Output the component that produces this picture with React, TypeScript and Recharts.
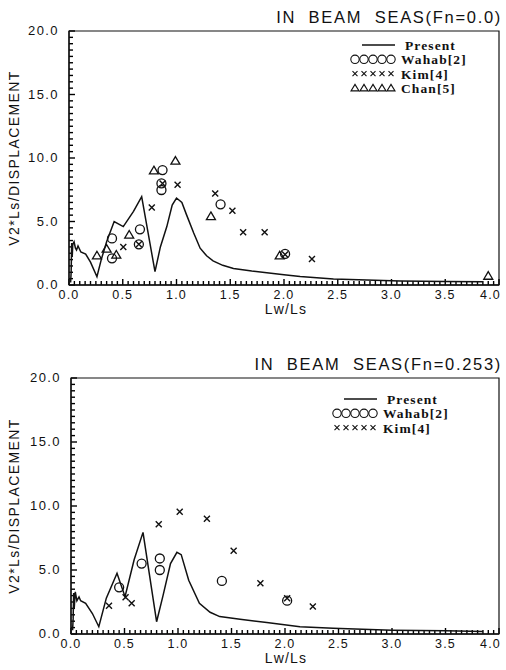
import React from 'react';
import { ComposedChart, Line, Scatter, XAxis, YAxis, ReferenceArea, ReferenceLine } from 'recharts';

type Pt = { x: number; y: number };

const xMajorTicks = [0, 0.5, 1.0, 1.5, 2.0, 2.5, 3.0, 3.5, 4.0];
const yMajorTicks = [0, 5, 10, 15, 20];
// minor tick marks: every 0.05 on x, every 0.5 on y
const xTicks = Array.from({ length: 81 }, (_, i) => +(i * 0.05).toFixed(2));
const yTicks = Array.from({ length: 41 }, (_, i) => i * 0.5);

// ---- upper panel, Fn = 0.0 ----
const presentFn0: Pt[] = [
  { x: 0.015, y: 0.2 }, { x: 0.02, y: 1.0 }, { x: 0.025, y: 3.3 }, { x: 0.03, y: 2.2 },
  { x: 0.035, y: 3.2 }, { x: 0.047, y: 3.4 }, { x: 0.06, y: 2.9 }, { x: 0.07, y: 2.75 },
  { x: 0.084, y: 3.07 }, { x: 0.11, y: 2.6 }, { x: 0.155, y: 2.44 }, { x: 0.2, y: 1.8 },
  { x: 0.26, y: 0.65 }, { x: 0.3, y: 2.0 }, { x: 0.35, y: 3.4 }, { x: 0.42, y: 5.0 },
  { x: 0.505, y: 4.6 }, { x: 0.6, y: 5.8 }, { x: 0.676, y: 6.95 }, { x: 0.8, y: 1.05 },
  { x: 0.85, y: 3.0 }, { x: 0.91, y: 4.6 }, { x: 0.96, y: 6.3 }, { x: 1.0, y: 6.85 },
  { x: 1.05, y: 6.5 }, { x: 1.09, y: 5.6 }, { x: 1.16, y: 4.1 }, { x: 1.22, y: 2.9 },
  { x: 1.28, y: 2.3 }, { x: 1.34, y: 1.9 }, { x: 1.43, y: 1.55 }, { x: 1.53, y: 1.3 },
  { x: 1.7, y: 1.1 }, { x: 1.84, y: 0.97 }, { x: 2.0, y: 0.8 }, { x: 2.15, y: 0.66 },
  { x: 2.46, y: 0.47 }, { x: 3.08, y: 0.31 }, { x: 3.5, y: 0.28 }, { x: 3.85, y: 0.25 },
];
const wahabFn0: Pt[] = [
  { x: 0.4, y: 3.67 }, { x: 0.4, y: 2.1 }, { x: 0.66, y: 4.38 }, { x: 0.65, y: 3.2 },
  { x: 0.87, y: 9.05 }, { x: 0.86, y: 8.0 }, { x: 0.86, y: 7.48 }, { x: 1.41, y: 6.35 },
  { x: 2.01, y: 2.45 },
];
const kimFn0: Pt[] = [
  { x: 0.505, y: 3.0 }, { x: 0.65, y: 3.2 }, { x: 0.77, y: 6.1 }, { x: 0.87, y: 8.0 },
  { x: 1.01, y: 7.9 }, { x: 1.36, y: 7.2 }, { x: 1.52, y: 5.85 }, { x: 1.62, y: 4.15 },
  { x: 1.82, y: 4.15 }, { x: 2.01, y: 2.4 }, { x: 2.26, y: 2.05 },
];
const chanFn0: Pt[] = [
  { x: 0.26, y: 2.3 }, { x: 0.35, y: 2.83 }, { x: 0.44, y: 2.36 }, { x: 0.56, y: 3.94 },
  { x: 0.79, y: 9.0 }, { x: 0.99, y: 9.76 }, { x: 1.32, y: 5.4 }, { x: 1.96, y: 2.3 },
  { x: 3.9, y: 0.7 },
];

// ---- lower panel, Fn = 0.253 ----
const presentFn253: Pt[] = [
  { x: 0.015, y: 0.3 }, { x: 0.02, y: 1.2 }, { x: 0.025, y: 3.2 }, { x: 0.03, y: 2.0 },
  { x: 0.04, y: 3.3 }, { x: 0.055, y: 2.6 }, { x: 0.075, y: 2.9 }, { x: 0.09, y: 2.6 },
  { x: 0.137, y: 2.4 }, { x: 0.2, y: 1.6 }, { x: 0.26, y: 0.57 }, { x: 0.33, y: 2.8 },
  { x: 0.43, y: 4.74 }, { x: 0.505, y: 2.92 }, { x: 0.59, y: 5.8 }, { x: 0.673, y: 7.94 },
  { x: 0.8, y: 0.96 }, { x: 0.86, y: 3.0 }, { x: 0.93, y: 5.5 }, { x: 0.99, y: 6.38 },
  { x: 1.03, y: 6.2 }, { x: 1.1, y: 4.2 }, { x: 1.2, y: 2.4 }, { x: 1.3, y: 1.7 },
  { x: 1.39, y: 1.36 }, { x: 1.58, y: 1.15 }, { x: 1.83, y: 0.89 }, { x: 2.14, y: 0.57 },
  { x: 2.45, y: 0.44 }, { x: 3.0, y: 0.3 }, { x: 3.5, y: 0.25 }, { x: 3.85, y: 0.2 },
];
const wahabFn253: Pt[] = [
  { x: 0.45, y: 3.65 }, { x: 0.66, y: 5.5 }, { x: 0.83, y: 5.9 }, { x: 0.83, y: 5.0 },
  { x: 1.41, y: 4.15 }, { x: 2.02, y: 2.6 },
];
const kimFn253: Pt[] = [
  { x: 0.355, y: 2.2 }, { x: 0.51, y: 2.87 }, { x: 0.567, y: 2.4 }, { x: 0.82, y: 8.57 },
  { x: 1.016, y: 9.56 }, { x: 1.27, y: 9.0 }, { x: 1.52, y: 6.5 }, { x: 1.77, y: 3.96 },
  { x: 2.02, y: 2.8 }, { x: 2.26, y: 2.14 },
];

const INK = '#111';
const tickFont = '"Liberation Sans", Arial, sans-serif';

const isMajor = (v: number, majors: number[]) => majors.some((m) => Math.abs(m - v) < 1e-6);

// labels only; the inward tick marks are drawn as reference segments
const XTick = (p: any) => {
  const v = p.payload.value;
  if (!isMajor(v, xMajorTicks)) return <g />;
  const last = Math.abs(v - 4) < 1e-6;
  return (
    <text
      x={last ? p.x + 2 : p.x}
      y={p.y + 14}
      textAnchor={last ? 'end' : 'middle'}
      fontSize={12.5}
      fontFamily={tickFont}
      letterSpacing={1.2}
      fill={INK}
    >
      {v.toFixed(1)}
    </text>
  );
};

const YTick = (p: any) => {
  const v = p.payload.value;
  if (!isMajor(v, yMajorTicks)) return <g />;
  return (
    <text x={p.x - 10} y={p.y + 4} textAnchor="end" fontSize={13} fontFamily={tickFont} letterSpacing={1.4} fill={INK}>
      {v.toFixed(1)}
    </text>
  );
};

const CircleMark = (p: any) => (
  <circle cx={p.cx} cy={p.cy} r={4.5} fill="none" stroke={INK} strokeWidth={1.3} />
);
const CrossMark = (p: any) => {
  const s = 3;
  return (
    <path
      d={`M${p.cx - s},${p.cy - s}L${p.cx + s},${p.cy + s}M${p.cx - s},${p.cy + s}L${p.cx + s},${p.cy - s}`}
      stroke={INK}
      strokeWidth={1.4}
      fill="none"
    />
  );
};
const TriMark = (p: any) => {
  const s = 4.5;
  return (
    <path
      d={`M${p.cx},${p.cy - s}L${p.cx + s},${p.cy + s * 0.7}L${p.cx - s},${p.cy + s * 0.7}Z`}
      fill="none"
      stroke={INK}
      strokeWidth={1.3}
    />
  );
};

type LegendRow = { label: string; kind: 'line' | 'circle' | 'cross' | 'tri' };

function LegendBox({ rows, left, top }: { rows: LegendRow[]; left: number; top: number }) {
  const rowH = 14.3;
  return (
    <svg style={{ position: 'absolute', left, top }} width={150} height={rows.length * rowH + 4}>
      {rows.map((r, i) => {
        const cy = 8 + i * rowH;
        const marks = [0, 1, 2, 3, 4].map((k) => 5 + k * 9);
        return (
          <g key={r.label}>
            {r.kind === 'line' && <line x1={12} x2={45} y1={cy} y2={cy} stroke={INK} strokeWidth={1.3} />}
            {r.kind === 'circle' && marks.map((mx) => <circle key={mx} cx={mx} cy={cy} r={4.2} fill="none" stroke={INK} strokeWidth={1.1} />)}
            {r.kind === 'cross' &&
              marks.map((mx) => (
                <path key={mx} d={`M${mx - 2.5},${cy - 2.5}L${mx + 2.5},${cy + 2.5}M${mx - 2.5},${cy + 2.5}L${mx + 2.5},${cy - 2.5}`} stroke={INK} strokeWidth={1.1} />
              ))}
            {r.kind === 'tri' &&
              marks.map((mx) => (
                <path key={mx} d={`M${mx},${cy - 3.5}L${mx + 4},${cy + 3}L${mx - 4},${cy + 3}Z`} fill="none" stroke={INK} strokeWidth={1.1} />
              ))}
            <text
              x={r.kind === 'line' ? 55 : 51}
              y={cy + 5}
              fontSize={13.5}
              fontWeight="bold"
              fontFamily='"Liberation Serif", "DejaVu Serif", serif'
              letterSpacing={1.1}
              fill={INK}
            >
              {r.label}
            </text>
          </g>
        );
      })}
    </svg>
  );
}

type PanelProps = {
  top: number;
  height: number;
  plotTop: number;
  plotLeft: number;
  xAxisH: number;
  title: string;
  present: Pt[];
  wahab: Pt[];
  kim: Pt[];
  chan?: Pt[];
  legendLeft: number;
  legendTop: number;
};

function Panel(props: PanelProps) {
  const { top, height, plotTop, plotLeft, xAxisH, title, present, wahab, kim, chan } = props;
  const plotBottom = height - xAxisH;
  const plotH = plotBottom - plotTop;
  const plotW = 506 - 7 - plotLeft;
  // tick lengths in px converted to data units
  const xTickLen = (px: number) => (px / plotH) * 20;
  const yTickLen = (px: number) => (px / plotW) * 4;
  const legendRows: LegendRow[] = [
    { label: 'Present', kind: 'line' },
    { label: 'Wahab[2]', kind: 'circle' },
    { label: 'Kim[4]', kind: 'cross' },
  ];
  if (chan) legendRows.push({ label: 'Chan[5]', kind: 'tri' });
  return (
    <div style={{ position: 'absolute', left: 0, top, width: 506, height }}>
      <ComposedChart width={506} height={height} margin={{ top: plotTop, right: 7, bottom: 0, left: 0 }}>
        <XAxis
          type="number"
          dataKey="x"
          domain={[0, 4]}
          ticks={xTicks}
          interval={0}
          tick={XTick}
          tickLine={false}
          tickSize={0}
          tickMargin={0}
          height={xAxisH}
          axisLine={{ stroke: INK, strokeWidth: 1.3 }}
          allowDataOverflow
        />
        <YAxis
          type="number"
          dataKey="y"
          domain={[0, 20]}
          ticks={yTicks}
          interval={0}
          tick={YTick}
          tickLine={false}
          tickSize={0}
          tickMargin={0}
          width={plotLeft}
          axisLine={{ stroke: INK, strokeWidth: 1.3 }}
          allowDataOverflow
        />
        <ReferenceArea x1={0} x2={4} y1={0} y2={20} fill="none" stroke={INK} strokeWidth={1.2} ifOverflow="visible" />
        {xTicks.map((t) => (
          <ReferenceLine
            key={`xt${t}`}
            segment={[{ x: t, y: 0 }, { x: t, y: xTickLen(isMajor(t, xMajorTicks) ? 6 : 4) }]}
            stroke="#000"
            strokeWidth={1.4}
            ifOverflow="visible"
          />
        ))}
        {yTicks.map((t) => (
          <ReferenceLine
            key={`yt${t}`}
            segment={[{ x: 0, y: t }, { x: yTickLen(isMajor(t, yMajorTicks) ? 6 : 4), y: t }]}
            stroke="#000"
            strokeWidth={1.4}
            ifOverflow="visible"
          />
        ))}
        <Line data={present} dataKey="y" type="linear" stroke={INK} strokeWidth={1.5} dot={false} isAnimationActive={false} />
        <Scatter data={wahab} dataKey="y" shape={CircleMark} isAnimationActive={false} />
        <Scatter data={kim} dataKey="y" shape={CrossMark} isAnimationActive={false} />
        {chan && <Scatter data={chan} dataKey="y" shape={TriMark} isAnimationActive={false} />}
      </ComposedChart>
      <div
        style={{
          position: 'absolute',
          right: 4,
          top: plotTop - 23,
          fontFamily: tickFont,
          fontSize: 16.5,
          letterSpacing: 1.7,
          whiteSpace: 'pre',
          color: INK,
        }}
      >
        {title}
      </div>
      <div
        style={{
          position: 'absolute',
          left: 14,
          top: (plotTop + plotBottom) / 2,
          transform: 'translate(-50%, -50%) rotate(-90deg)',
          fontFamily: tickFont,
          fontSize: 14,
          letterSpacing: 1.4,
          whiteSpace: 'nowrap',
          color: INK,
        }}
      >
        V2*Ls/DISPLACEMENT
      </div>
      <div
        style={{
          position: 'absolute',
          left: 286,
          top: plotBottom + 17,
          transform: 'translateX(-50%)',
          fontFamily: tickFont,
          fontSize: 14,
          letterSpacing: 1.2,
          lineHeight: '14px',
          color: INK,
        }}
      >
        Lw/Ls
      </div>
      <LegendBox rows={legendRows} left={props.legendLeft} top={props.legendTop} />
    </div>
  );
}

export default function App() {
  return (
    <div style={{ position: 'absolute', left: 0, top: 0, width: 506, height: 670, background: '#fff' }}>
      <Panel
        top={0}
        height={310}
        plotTop={31}
        plotLeft={69}
        xAxisH={25}
        title={'IN  BEAM  SEAS(Fn=0.0)'}
        present={presentFn0}
        wahab={wahabFn0}
        kim={kimFn0}
        chan={chanFn0}
        legendLeft={350}
        legendTop={37}
      />
      <Panel
        top={340}
        height={330}
        plotTop={38}
        plotLeft={71}
        xAxisH={36}
        title={'IN  BEAM  SEAS(Fn=0.253)'}
        present={presentFn253}
        wahab={wahabFn253}
        kim={kimFn253}
        legendLeft={332}
        legendTop={51}
      />
    </div>
  );
}
